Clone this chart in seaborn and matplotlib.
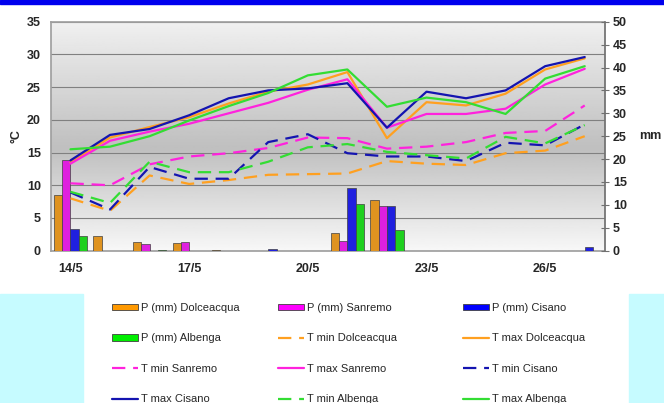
import numpy as np
import pandas as pd
import seaborn as sns
import matplotlib.pyplot as plt
from matplotlib.patches import Patch, Rectangle
from matplotlib.lines import Line2D

days = ['14/5', '15/5', '16/5', '17/5', '18/5', '19/5', '20/5',
        '21/5', '22/5', '23/5', '24/5', '25/5', '26/5', '27/5']
stations = ['Dolceacqua', 'Sanremo', 'Cisano', 'Albenga']

# precipitation, mm (right axis)
p_dolceacqua = [12.2, 3.3, 2.0, 1.6, 0.1, 0, 0, 3.9, 11.0, 0, 0, 0, 0, 0]
p_sanremo = [19.7, 0, 1.5, 2.0, 0, 0, 0, 2.1, 9.7, 0, 0, 0, 0, 0]
p_cisano = [4.7, 0, 0, 0, 0, 0.4, 0, 13.6, 9.7, 0, 0, 0, 0, 0.7]
p_albenga = [3.3, 0, 0.1, 0, 0, 0, 0, 10.3, 4.5, 0, 0, 0, 0, 0]

# temperatures, degrees C (left axis)
tmin_dolceacqua = [8.0, 6.1, 11.5, 10.2, 10.8, 11.6, 11.7, 11.8, 13.7, 13.3, 13.1, 14.9, 15.3, 17.5]
tmax_dolceacqua = [13.5, 17.3, 18.9, 20.4, 22.5, 24.3, 25.4, 27.3, 17.2, 22.7, 22.2, 24.0, 27.7, 29.4]
tmin_sanremo = [10.3, 10.0, 13.2, 14.4, 14.9, 15.7, 17.3, 17.2, 15.6, 15.9, 16.6, 18.0, 18.3, 22.2]
tmax_sanremo = [13.3, 16.8, 18.2, 19.4, 21.0, 22.6, 24.6, 26.2, 18.8, 20.9, 20.9, 21.7, 25.4, 27.8]
tmin_cisano = [8.9, 6.3, 12.8, 11.0, 11.0, 16.6, 17.8, 14.9, 14.4, 14.4, 13.7, 16.5, 16.1, 19.3]
tmax_cisano = [13.8, 17.7, 18.6, 20.7, 23.3, 24.5, 24.8, 25.6, 18.8, 24.3, 23.3, 24.5, 28.2, 29.6]
tmin_albenga = [9.0, 7.3, 13.6, 12.0, 12.0, 13.6, 15.8, 16.3, 15.1, 14.6, 14.1, 17.4, 16.4, 19.2]
tmax_albenga = [15.5, 15.9, 17.5, 19.9, 22.1, 24.1, 26.8, 27.7, 22.0, 23.4, 22.7, 20.9, 26.3, 28.2]

tick_days = ['14/5', '17/5', '20/5', '23/5', '26/5']

bar_colors = ['#FF9900', '#FF00FF', '#0000FF', '#00EE00']
line_colors = ['#FFA020', '#FF22DD', '#1414B0', '#33DD33']

sns.set_theme(style='white')
plt.rcParams['font.family'] = ['Liberation Sans', 'DejaVu Sans']

rain = pd.DataFrame({
    'day': np.tile(np.arange(len(days)), len(stations)),
    'station': np.repeat(stations, len(days)),
    'mm': p_dolceacqua + p_sanremo + p_cisano + p_albenga,
})
temps = {
    'Dolceacqua': (tmin_dolceacqua, tmax_dolceacqua),
    'Sanremo': (tmin_sanremo, tmax_sanremo),
    'Cisano': (tmin_cisano, tmax_cisano),
    'Albenga': (tmin_albenga, tmax_albenga),
}
x = np.arange(len(days))

fig = plt.figure(figsize=(6.64, 4.03), dpi=100)
fig.patches.append(Rectangle((0, 1 - 3.5 / 403), 1, 3.5 / 403, transform=fig.transFigure,
                             color='#0000EE', zorder=0))
for x0, w in [(0, 83), (629, 35)]:
    fig.patches.append(Rectangle((x0 / 664, 0), w / 664, 109 / 403, transform=fig.transFigure,
                                 color='#C6FBFF', zorder=0))

ax_bg = fig.add_axes([50.7 / 664, 1 - 250.7 / 403, 553.8 / 664, 229 / 403])
ax_mm = ax_bg.twinx()
ax_t = ax_bg.twinx()

# gradient background of plot area
frac = np.linspace(0, 1, 200)
shade = np.interp(frac, [0, 0.55, 1], [0.94, 0.75, 0.97])
ax_bg.imshow(shade[:, None], extent=(0, 1, 0, 1), transform=ax_bg.transAxes,
             cmap='gray', vmin=0, vmax=1, aspect='auto', zorder=0)
ax_bg.set_ylim(0, 35)
ax_bg.set_yticks(range(0, 36, 5))
ax_bg.grid(axis='y', color='#808080', lw=0.8)
ax_bg.tick_params(axis='y', length=0, pad=7, labelsize=9)
ax_bg.tick_params(axis='x', length=0, pad=9, labelsize=9)
for lab in ax_bg.get_yticklabels():
    lab.set_fontweight('bold')
ax_bg.set_ylabel('°C', fontsize=9, fontweight='bold', labelpad=3)
for side in ['top', 'left', 'bottom']:
    ax_bg.spines[side].set_color('#A0A0A0')
ax_bg.spines['right'].set_visible(False)

# precipitation bars
sns.barplot(data=rain, x='day', y='mm', hue='station', hue_order=stations,
            palette=bar_colors, width=0.84, gap=0, edgecolor='#404040',
            linewidth=0.5, legend=False, ax=ax_mm)
ax_mm.set_ylim(0, 50)
ax_mm.set_yticks(range(0, 51, 5))
ax_mm.tick_params(axis='y', direction='inout', length=6, width=0.8,
                  color='#707070', pad=3, labelsize=9)
for lab in ax_mm.get_yticklabels():
    lab.set_fontweight('bold')
ax_mm.set_ylabel('mm', fontsize=9, fontweight='bold', rotation=0,
                 labelpad=17, va='center')
for side in ['top', 'left', 'bottom']:
    ax_mm.spines[side].set_visible(False)
ax_mm.spines['right'].set_color('#707070')
ax_mm.set_xlabel('')

# temperature lines
dash = (0, (6, 3.5))
for st, col in zip(stations, line_colors):
    tmin, tmax = temps[st]
    sns.lineplot(x=x, y=tmin, ax=ax_t, color=col, lw=1.6, linestyle=dash)
    sns.lineplot(x=x, y=tmax, ax=ax_t, color=col, lw=1.6)
ax_t.set_ylim(0, 35)
ax_t.set_yticks([])
for side in ax_t.spines:
    ax_t.spines[side].set_visible(False)

ax_bg.set_xlim(-0.5, len(days) - 0.5)
ax_bg.set_xticks([days.index(d) for d in tick_days], labels=tick_days, fontweight='bold')

# legend, laid out row by row in three columns
def bar_h(c):
    return Patch(facecolor=c, edgecolor='#404040', linewidth=0.6)

def line_h(c, ls):
    return Line2D([], [], color=c, lw=1.6, linestyle=ls)

items = [
    (bar_h(bar_colors[0]), 'P (mm) Dolceacqua'),
    (bar_h(bar_colors[1]), 'P (mm) Sanremo'),
    (bar_h(bar_colors[2]), 'P (mm) Cisano'),
    (bar_h(bar_colors[3]), 'P (mm) Albenga'),
    (line_h(line_colors[0], dash), 'T min Dolceacqua'),
    (line_h(line_colors[0], '-'), 'T max Dolceacqua'),
    (line_h(line_colors[1], dash), 'T min Sanremo'),
    (line_h(line_colors[1], '-'), 'T max Sanremo'),
    (line_h(line_colors[2], dash), 'T min Cisano'),
    (line_h(line_colors[2], '-'), 'T max Cisano'),
    (line_h(line_colors[3], dash), 'T min Albenga'),
    (line_h(line_colors[3], '-'), 'T max Albenga'),
]
col_x = [112 / 664, 278 / 664, 463 / 664]
for c in range(3):
    col_items = items[c::3]
    fig.legend([h for h, _ in col_items], [l for _, l in col_items],
               loc='upper left', bbox_to_anchor=(col_x[c], 1 - 303 / 403),
               frameon=False, fontsize=8, handlelength=2.3, handleheight=0.55,
               handletextpad=0.3, labelspacing=1.84, borderpad=0, borderaxespad=0)

fig.savefig('out.png', dpi=100)
